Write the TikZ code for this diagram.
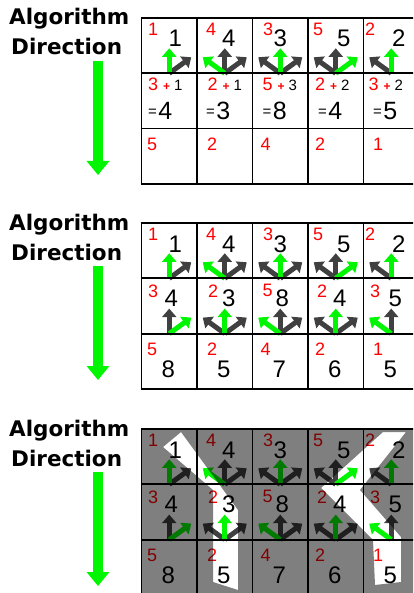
\documentclass[tikz,border=0pt]{standalone}
\usepackage{fontspec}
\setmainfont{Liberation Sans}
\newfontfamily\headfont{DejaVu Sans}
\usetikzlibrary{arrows.meta}
\definecolor{dirgreen}{RGB}{0,245,0}
\definecolor{costred}{RGB}{255,0,0}
\definecolor{altgray}{RGB}{64,64,64}
\tikzset{
  pick/.style={dirgreen,line width=5pt,-{Triangle[width=14pt,length=8.5pt]}},
  alt/.style={altgray,line width=5pt,-{Triangle[width=14pt,length=8.5pt]}},
  cost/.style={costred,anchor=north west,inner sep=0pt,font=\fontsize{18}{18}\selectfont},
  total/.style={anchor=base,inner sep=0pt,font=\fontsize{24}{24}\selectfont},
  head/.style={anchor=base west,inner sep=0pt,font=\headfont\bfseries\fontsize{21.5}{21.5}\selectfont},
  cellline/.style={black,line width=1.8pt},
}
\begin{document}
\begin{tikzpicture}[x=1pt,y=-1pt]
\useasboundingbox (0,0) rectangle (413,593);
\clip (0,0) rectangle (413,593);
% direction label and arrow of each panel
\foreach \p/\T in {1/18,2/223,3/429} {
  \node[head] (alg\p) at (9,\T+7) {Algorithm};
  \node[head] (dir\p) at (11,\T+37) {Direction};
  \coordinate (ds\p) at (98,\T+43);
  \coordinate (de\p) at (98,\T+157);
  \draw[dirgreen,line width=10pt,-{Triangle[width=22pt,length=14pt]}] (ds\p) -- (de\p);
}
% row 0: cost and total
\foreach \p/\T in {1/18,2/223,3/429}
  \foreach \c/\k/\rx/\tx in {0/1/6.5/6,1/4/9/4,2/3/10.5/0,3/5/5/8,4/2/1.5/7.5} {
    \node[cost] (k\p-0-\c) at (141.5+\c*55.5+\rx,\T+5) {\k};
    \node[total] (s\p-0-\c) at (169.25+\c*55.5+\tx,\T+29) {\k};
  }
% row 1, first panel: the sums
\foreach \c/\k/\a/\s/\rx/\ex in {0/3/1/4/6.5/6.5,1/2/1/3/10.5/9,2/5/3/8/10/10,3/2/2/4/7/10,4/3/2/5/5/9.5} {
  \node[cost] (k1-1-\c) at (141.5+\c*55.5+\rx,78) {\k\hspace{5pt}{\fontsize{12}{12}\selectfont\bfseries+}\hspace{4pt}{\color{black}\fontsize{15}{15}\selectfont\a}};
  \node[anchor=base west,inner sep=0pt] (s1-1-\c) at (141.5+\c*55.5+\ex,120) {\raisebox{3pt}{\fontsize{15}{15}\selectfont=}\hspace{1.5pt}{\fontsize{25}{25}\selectfont\s}};
}
% row 1, second and third panel
\foreach \p/\T in {2/223,3/429}
  \foreach \c/\k/\s/\rx/\tx in {0/3/4/6.5/2,1/2/3/11/4,2/5/8/10/2,3/2/4/9/4,4/3/5/6.5/4} {
    \node[cost] (k\p-1-\c) at (141.5+\c*55.5+\rx,\T+61.3) {\k};
    \node[total] (s\p-1-\c) at (169.25+\c*55.5+\tx,\T+83.3) {\s};
  }
% row 2
\foreach \p/\T in {1/18,2/223,3/429}
  \foreach \c/\k/\rx in {0/5/5.5,1/2/10,2/4/8,3/2/7,4/1/9.5}
    \node[cost] (k\p-2-\c) at (141.5+\c*55.5+\rx,\T+119.6) {\k};
\foreach \p/\T in {2/223,3/429}
  \foreach \c/\s in {0/8,1/5,2/7,3/6,4/5}
    \node[total] (s\p-2-\c) at (168.25+\c*55.5,\T+154.6) {\s};
% arrow feet on the row lines
\foreach \p/\T in {1/18,2/223,3/429}
  \foreach \r in {0,1}
    \foreach \c in {0,...,4}
      \coordinate (f\p-\r-\c) at (169.25+\c*55.5,\T+55.3+\r*55.3);
\foreach \p in {1,2,3}
  \foreach \c/\dx/\dy/\s in {0/22/-16/alt,0/0/-25/pick,
      1/0/-25/alt,1/22/-16/alt,1/-22/-16/pick,
      2/-22/-16/alt,2/22/-16/alt,2/0/-25/pick,
      3/-22/-16/alt,3/0/-25/alt,3/22/-16/pick,
      4/-22/-16/alt,4/0/-25/pick}
    \draw[\s] (f\p-0-\c) -- ++(\dx,\dy);
\foreach \p in {2,3}
  \foreach \c/\dx/\dy/\s in {0/0/-25/alt,0/22/-16/pick,
      1/-22/-16/alt,1/22/-16/alt,1/0/-25/pick,
      2/0/-25/alt,2/22/-16/alt,2/-22/-16/pick,
      3/-22/-16/alt,3/22/-16/alt,3/0/-25/pick,
      4/0/-25/alt,4/-22/-16/pick}
    \draw[\s] (f\p-1-\c) -- ++(\dx,\dy);
% shade of the third panel, seams left white
\fill[black,fill opacity=0.5,even odd rule] (141.5,429) rectangle (420,600)
  (163,447) -- (181,432) -- (238,510) -- (238,590) -- (213,582) -- (213,490) -- cycle
  (383,432) -- (406,432) -- (360,490) -- (401,537) -- (401,582) -- (375,585) -- (373,540) -- (321,488) -- cycle;
% grids
\foreach \T in {18,223,429} {
  \foreach \r in {0,...,3}
    \draw[cellline] (140.6,\T+\r*55.3) -- (420,\T+\r*55.3);
  \foreach \c in {0,...,5}
    \draw[cellline] (141.5+\c*55.5,\T) -- (141.5+\c*55.5,\T+165.9);
}
\end{tikzpicture}
\end{document}
